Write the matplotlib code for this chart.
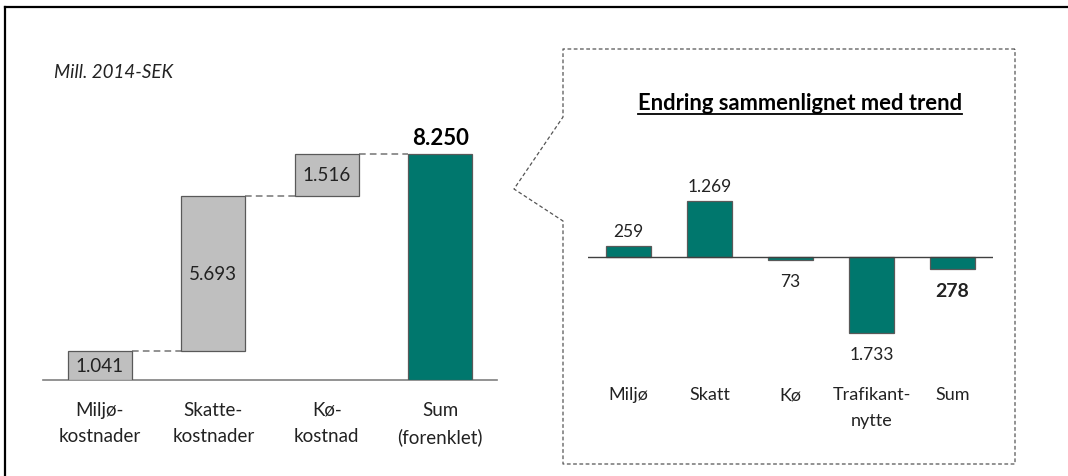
import matplotlib
matplotlib.use("Agg")
import matplotlib.pyplot as plt
from matplotlib.lines import Line2D

plt.rcParams['font.family'] = ['Lato', 'DejaVu Sans']

# ---- data ----
left_categories = ["Miljø-\nkostnader", "Skatte-\nkostnader", "Kø-\nkostnad", "Sum\n(forenklet)"]
left_values = [1041, 5693, 1516, 8250]   # last one is the total
left_labels = ["1.041", "5.693", "1.516", "8.250"]

right_categories = ["Miljø", "Skatt", "Kø", "Trafikant-\nnytte", "Sum"]
right_values = [259, 1269, -73, -1733, -278]
right_labels = ["259", "1.269", "73", "1.733", "278"]

unit_text = "Mill. 2014-SEK"
right_title = "Endring sammenlignet med trend"

TEAL = "#00776D"
GREY = "#BFBFBF"
EDGE = "#595959"

W, H = 1068, 477
fig = plt.figure(figsize=(W / 100, H / 100), dpi=100)


def px_axes(x0, y_top, x1, y_bot):
    return fig.add_axes([x0 / W, (H - y_bot) / H, (x1 - x0) / W, (y_bot - y_top) / H])


def fx(x):
    return x / W


def fy(y):
    return (H - y) / H


# ---- left waterfall ----
axL = px_axes(43, 120, 497, 381)
n = len(left_values)
bottoms = []
cum = 0
for i, v in enumerate(left_values):
    if i == n - 1:
        bottoms.append(0)
    else:
        bottoms.append(cum)
        cum += v
bw = 0.56
for i, (v, b) in enumerate(zip(left_values, bottoms)):
    color = TEAL if i == n - 1 else GREY
    axL.bar(i, v, bottom=b, width=bw, color=color, edgecolor=EDGE, linewidth=0.9, zorder=3)
    if i == n - 1:
        axL.annotate(left_labels[i], (i, b + v), xytext=(0, 4), textcoords="offset points",
                     ha="center", va="bottom", fontsize=16, fontweight="bold", color="black")
    else:
        axL.text(i, b + v / 2, left_labels[i], ha="center", va="center", fontsize=13.5,
                 color="#222222", zorder=4)
# dashed connectors
for i in range(n - 1):
    top = bottoms[i] + left_values[i]
    axL.plot([i + bw / 2, i + 1 - bw / 2], [top, top], color="#7F7F7F", lw=1.2,
             ls=(0, (4, 2.5)), zorder=2)
axL.set_xlim(-0.5, n - 0.5)
axL.set_ylim(0, 8250 * 261 / 226)
axL.set_xticks(range(n))
axL.set_xticklabels(left_categories, fontsize=13.5, color="#222222", linespacing=1.65)
axL.tick_params(axis="x", length=0, pad=15)
axL.set_yticks([])
for s in ["top", "right", "left"]:
    axL.spines[s].set_visible(False)
axL.spines["bottom"].set_color("#808080")
axL.spines["bottom"].set_linewidth(1.2)
axL.patch.set_alpha(0)

# ---- right bar chart ----
scale = 1269 / 56.0  # units per pixel
axR = px_axes(588, 180, 993, 375)
axR.bar(range(len(right_values)), right_values, width=0.56, color=TEAL, edgecolor=EDGE,
        linewidth=0.9, zorder=3)
axR.axhline(0, color="#404040", lw=1.0, zorder=4)
for i, (v, lab) in enumerate(zip(right_values, right_labels)):
    bold = i == len(right_values) - 1
    if v >= 0:
        axR.annotate(lab, (i, v), xytext=(0, 5), textcoords="offset points", ha="center",
                     va="bottom", fontsize=13 if bold else 12.5,
                     fontweight="bold" if bold else "normal", color="#222222")
    else:
        axR.annotate(lab, (i, v), xytext=(0, -9), textcoords="offset points", ha="center",
                     va="top", fontsize=14 if bold else 12.5,
                     fontweight="bold" if bold else "normal", color="#222222")
axR.set_xlim(-0.5, len(right_values) - 0.5)
axR.set_ylim(-(375 - 258) * scale, (258 - 180) * scale)
axR.set_xticks(range(len(right_values)))
axR.set_xticklabels(right_categories, fontsize=13, color="#222222", linespacing=1.7)
axR.tick_params(axis="x", length=0, pad=9)
axR.set_yticks([])
for s in axR.spines.values():
    s.set_visible(False)
axR.patch.set_alpha(0)

# ---- texts ----
fig.text(fx(54), fy(73), unit_text, fontsize=13.5, style="italic", ha="left", va="center",
         color="#222222")
t = fig.text(fx(800), fy(103), right_title, fontsize=15.8, fontweight="bold", ha="center",
             va="center", color="black")
fig.canvas.draw()
bb = t.get_window_extent()
uy = bb.y0 - 1
fig.add_artist(Line2D([bb.x0 / W, bb.x1 / W], [uy / H, uy / H], color="black", lw=1.3,
                      transform=fig.transFigure))

# ---- callout box ----
box_x = [1015, 563, 563, 514, 563, 563, 1015, 1015]
box_y = [50, 50, 118, 190, 222, 465, 465, 50]
fig.add_artist(Line2D([fx(x) for x in box_x], [fy(y) for y in box_y], color="#555555",
                      lw=0.9, ls=(0, (3, 2)), transform=fig.transFigure))

# ---- outer border (top and left) ----
fig.add_artist(Line2D([fx(5), fx(1068)], [fy(8), fy(8)], color="black", lw=1.6,
                      transform=fig.transFigure))
fig.add_artist(Line2D([fx(5), fx(5)], [fy(8), fy(477)], color="black", lw=1.6,
                      transform=fig.transFigure))

fig.savefig("out.png", dpi=100)
